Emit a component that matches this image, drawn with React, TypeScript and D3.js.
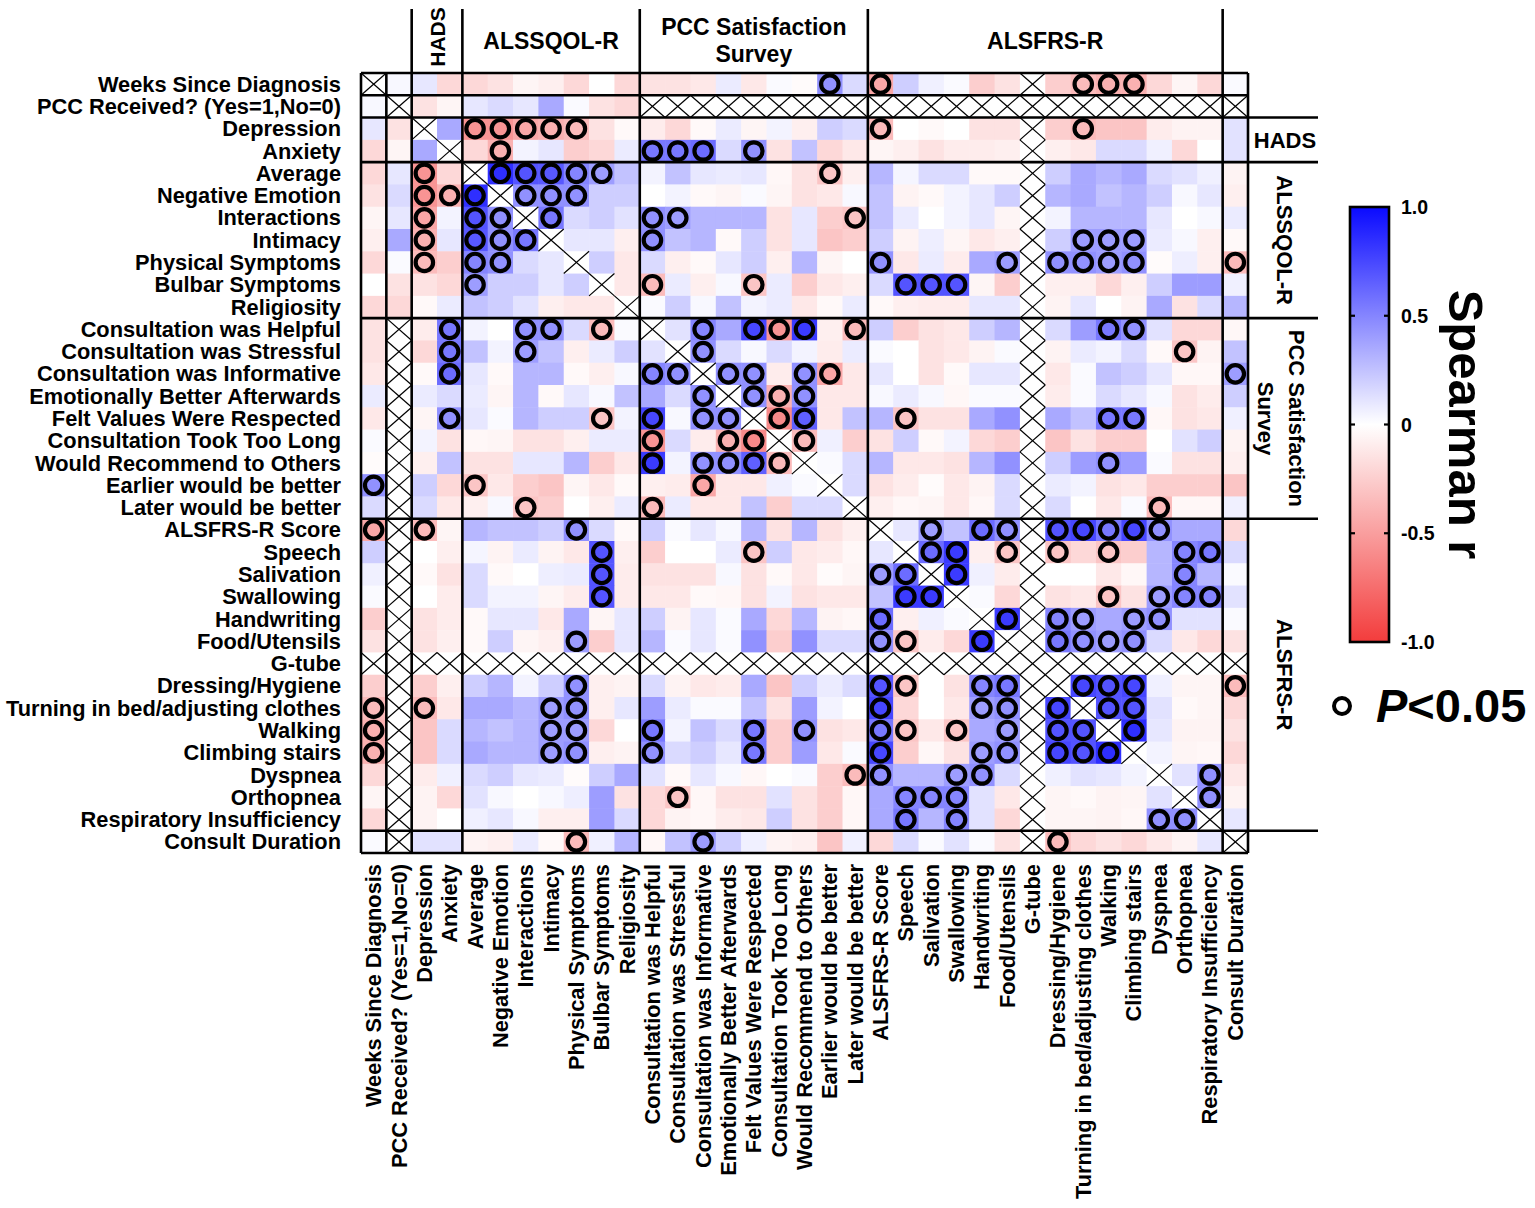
import * as d3 from 'd3'

// Variables, in matrix order (rows top -> bottom, columns left -> right)
const variables = [
  'Weeks Since Diagnosis',
  'PCC Received? (Yes=1,No=0)',
  'Depression',
  'Anxiety',
  'Average',
  'Negative Emotion',
  'Interactions',
  'Intimacy',
  'Physical Symptoms',
  'Bulbar Symptoms',
  'Religiosity',
  'Consultation was Helpful',
  'Consultation was Stressful',
  'Consultation was Informative',
  'Emotionally Better Afterwards',
  'Felt Values Were Respected',
  'Consultation Took Too Long',
  'Would Recommend to Others',
  'Earlier would be better',
  'Later would be better',
  'ALSFRS-R Score',
  'Speech',
  'Salivation',
  'Swallowing',
  'Handwriting',
  'Food/Utensils',
  'G-tube',
  'Dressing/Hygiene',
  'Turning in bed/adjusting clothes',
  'Walking',
  'Climbing stairs',
  'Dyspnea',
  'Orthopnea',
  'Respiratory Insufficiency',
  'Consult Duration',
]

// Instrument blocks: [first index, index after last]
const groups = [
  { name: 'HADS', start: 2, end: 4 },
  { name: 'ALSSQOL-R', start: 4, end: 11 },
  { name: 'PCC Satisfaction Survey', start: 11, end: 20 },
  { name: 'ALSFRS-R', start: 20, end: 34 },
]

// Spearman r, lower triangle (row i holds columns 0..i-1); null = not computed
const lowerR: (number | null)[][] = [
  [],
  [0.03],
  [0.1, -0.15],
  [-0.2, -0.05, 0.35],
  [-0.2, 0.1, -0.55, -0.2],
  [-0.15, 0.15, -0.55, -0.4, 0.85],
  [-0.05, 0.1, -0.45, 0.05, 0.7, 0.45],
  [-0.08, 0.35, -0.4, 0.1, 0.68, 0.45, 0.55],
  [-0.2, 0.02, -0.35, -0.25, 0.5, 0.45, 0.15, 0.1],
  [0, -0.15, -0.15, -0.2, 0.4, 0.2, 0.2, 0.1, 0.2],
  [-0.2, -0.2, -0.03, 0.08, 0.25, 0.2, 0.12, -0.08, -0.12, -0.12],
  [-0.15, null, -0.1, 0.55, 0.05, 0, 0.45, 0.45, 0.15, -0.35, 0.02],
  [-0.15, null, -0.2, 0.55, 0.25, 0.05, 0.4, 0.25, -0.08, 0.08, 0.2, 0.12],
  [-0.12, null, -0.03, 0.6, 0.1, -0.03, 0.3, 0.3, -0.03, -0.08, 0.03, 0.5, 0.45],
  [0.08, null, 0.08, 0.15, 0.08, -0.05, 0.3, -0.03, 0.1, 0.03, 0.25, 0.35, 0.15, 0.45],
  [-0.12, null, -0.05, 0.45, 0.1, 0.02, 0.3, 0.2, 0.2, -0.3, 0.05, 0.75, 0.03, 0.45, 0.45],
  [0.02, null, 0.05, -0.15, -0.04, -0.05, -0.15, -0.15, -0.08, 0.08, 0.08, -0.55, 0.15, -0.1, -0.4, -0.6],
  [-0.02, null, -0.08, 0.25, -0.15, -0.15, 0.1, 0.1, 0.3, -0.25, -0.12, 0.8, 0.05, 0.45, 0.45, 0.65, -0.35],
  [0.45, null, 0.2, -0.2, -0.3, -0.12, -0.25, -0.3, -0.05, -0.12, -0.03, -0.08, -0.1, -0.45, -0.12, -0.12, 0.06, 0.02],
  [0.15, null, 0.15, -0.12, -0.08, 0.03, -0.3, -0.25, 0, -0.08, 0.08, -0.35, 0.08, -0.12, -0.12, 0.25, -0.25, 0.15, 0.15],
  [-0.45, null, -0.35, -0.05, 0.3, 0.25, 0.25, 0.2, 0.45, 0.15, -0.03, 0.2, 0.02, 0.1, 0.03, 0.3, -0.15, 0.3, -0.15, -0.08],
  [0.2, null, 0, -0.08, 0.04, -0.06, 0.08, -0.06, -0.12, 0.7, -0.08, -0.25, 0, 0, 0.08, -0.3, 0.2, -0.12, -0.1, -0.04, 0.1],
  [0.06, null, -0.03, -0.15, 0.15, -0.03, 0, 0.07, 0.08, 0.7, -0.1, -0.15, -0.15, -0.15, 0.03, -0.15, -0.03, -0.12, -0.02, -0.05, 0.4, 0.6],
  [0.02, null, 0, -0.1, 0.15, 0.05, 0.05, -0.05, -0.1, 0.7, -0.1, -0.12, -0.12, -0.03, -0.04, -0.15, 0.05, -0.15, -0.12, -0.12, 0.25, 0.8, 0.8],
  [-0.25, null, -0.15, -0.1, -0.03, 0.1, 0.1, -0.12, 0.35, -0.05, 0.1, 0.2, -0.06, 0.1, 0.02, 0.35, -0.2, 0.3, -0.06, -0.04, 0.6, -0.08, 0.06, 0.02],
  [-0.15, null, -0.15, -0.08, -0.03, 0.2, -0.05, -0.08, 0.4, -0.25, 0.1, 0.3, 0.02, 0.1, 0.02, 0.45, -0.25, 0.45, 0.15, 0.15, 0.45, -0.3, -0.1, -0.2, 0.8],
  [], // G-tube: no variance, nothing computed
  [-0.25, null, -0.25, -0.08, 0.2, 0.3, 0.05, 0.2, 0.45, -0.08, -0.06, 0.15, -0.06, -0.12, -0.1, 0.35, -0.3, 0.2, 0.08, 0.15, 0.7, -0.3, 0, -0.15, 0.5, 0.55, null],
  [-0.35, null, -0.35, -0.12, 0.35, 0.35, 0.3, 0.4, 0.45, -0.08, 0.1, 0.4, 0.08, 0.02, 0.02, 0.25, -0.15, 0.4, 0.05, 0, 0.75, -0.2, 0, -0.12, 0.4, 0.45, null, 0.75],
  [-0.4, null, -0.3, 0.15, 0.3, 0.25, 0.3, 0.4, 0.4, -0.2, 0, 0.55, 0.05, 0.25, 0.15, 0.55, -0.25, 0.45, -0.15, -0.12, 0.55, -0.3, -0.12, -0.3, 0.35, 0.4, null, 0.7, 0.7],
  [-0.4, null, -0.3, 0.15, 0.35, 0.3, 0.3, 0.4, 0.45, -0.08, -0.06, 0.45, 0.15, 0.2, 0.1, 0.55, -0.25, 0.4, -0.12, 0.02, 0.75, -0.25, -0.04, -0.15, 0.4, 0.45, null, 0.75, 0.7, 0.85],
  [-0.2, null, -0.1, 0.06, 0.15, 0.2, 0.1, 0.08, -0.02, 0.2, 0.35, 0.12, -0.03, 0.1, 0.03, -0.04, 0, 0.02, -0.25, -0.35, 0.45, 0.3, 0.3, 0.4, 0.45, 0.15, null, 0.06, 0.12, 0.1, 0.05],
  [-0.05, null, -0.06, -0.2, 0.12, 0.03, 0, 0.03, 0.07, 0.4, -0.15, -0.2, -0.3, -0.04, -0.15, -0.15, 0.12, -0.15, -0.25, -0.04, 0.35, 0.5, 0.5, 0.5, 0.12, -0.12, null, -0.05, -0.03, -0.06, -0.05, 0.12],
  [-0.2, null, -0.06, 0, 0.06, 0.1, 0.03, -0.08, -0.08, 0.4, 0.15, -0.2, -0.06, -0.04, -0.1, -0.12, 0.2, -0.15, -0.25, -0.04, 0.35, 0.55, 0.3, 0.5, 0.12, -0.2, null, -0.05, -0.05, -0.06, -0.04, 0.45, 0.45],
  [0.02, null, 0.12, 0.12, -0.06, -0.08, 0.08, -0.03, -0.35, 0.06, 0.3, -0.04, 0.25, 0.4, 0.2, 0.06, -0.06, -0.08, -0.3, 0.06, -0.2, 0.15, 0.02, 0.12, 0.02, -0.15, null, -0.35, -0.2, -0.15, -0.2, -0.12, -0.06, 0.1],
]

// P<0.05 pairs [row, col], lower triangle
const significant: [number, number][] = [
  [4, 2], [5, 2], [5, 3], [5, 4], [6, 2], [6, 4], [6, 5], [7, 2], [7, 4], [7, 5], [7, 6],
  [8, 2], [8, 4], [8, 5], [9, 4],
  [11, 3], [11, 6], [11, 7], [11, 9], [12, 3], [12, 6], [13, 3], [13, 11], [13, 12], [14, 13],
  [15, 3], [15, 9], [15, 11], [15, 13], [15, 14], [16, 11], [16, 14], [16, 15],
  [17, 11], [17, 13], [17, 14], [17, 15], [17, 16], [18, 0], [18, 4], [18, 13], [19, 6], [19, 11],
  [20, 0], [20, 2], [20, 8], [21, 9], [21, 15], [22, 9], [22, 20], [22, 21], [23, 9], [23, 21], [23, 22],
  [24, 20], [25, 8], [25, 20], [25, 21], [25, 24],
  [27, 8], [27, 20], [27, 21], [27, 24], [27, 25],
  [28, 0], [28, 2], [28, 7], [28, 8], [28, 20], [28, 24], [28, 25], [28, 27],
  [29, 0], [29, 7], [29, 8], [29, 11], [29, 15], [29, 17], [29, 20], [29, 21], [29, 23], [29, 25], [29, 27], [29, 28],
  [30, 0], [30, 7], [30, 8], [30, 11], [30, 15], [30, 20], [30, 24], [30, 25], [30, 27], [30, 28], [30, 29],
  [31, 19], [31, 20], [31, 23], [31, 24],
  [32, 12], [32, 21], [32, 22], [32, 23],
  [33, 21], [33, 23], [33, 31], [33, 32],
  [34, 8], [34, 13], [34, 27],
]

const colorTicks = [1, 0.5, 0, -0.5, -1]
const colorTickLabels = ['1.0', '0.5', '0', '-0.5', '-1.0']

const FONT = '"Liberation Sans", Arial, sans-serif'

function rValue(i: number, j: number): number | null {
  if (i === j) return null
  const [a, b] = i > j ? [i, j] : [j, i]
  const v = lowerR[a][b]
  return v === undefined ? null : v
}

export default function App() {
  const width = 1535
  const height = 1208
  const left = 361
  const right = 1248
  const top = 73
  const bottom = 853
  const idx = variables.map((_, i) => i)

  const x = d3.scaleBand<number>().domain(idx).range([left, right])
  const y = d3.scaleBand<number>().domain(idx).range([top, bottom])
  const cw = x.bandwidth()
  const ch = y.bandwidth()

  const color = d3
    .scaleLinear<string>()
    .domain([-1, 0, 1])
    .range(['#f33c3c', '#ffffff', '#0a0aff'])
    .interpolate(d3.interpolateRgb)

  const sigSet = new Set<string>()
  significant.forEach(([a, b]) => {
    sigSet.add(`${a}-${b}`)
    sigSet.add(`${b}-${a}`)
  })

  const cells = idx.flatMap((i) => idx.map((j) => ({ i, j, v: rValue(i, j) })))

  // block boundaries
  const bounds = [0, 1, 2, 4, 11, 20, 34, 35]
  const groupBounds = [2, 4, 11, 20, 34]
  const edgeX = (b: number) => left + b * cw
  const edgeY = (b: number) => top + b * ch

  // colour bar
  const barX = 1350
  const barW = 39
  const cbar = d3.scaleLinear([-1, 1], [642, 207])

  const lineW = 2.6
  const labelSize = 21.8

  return (
    <svg
      width={width}
      height={height}
      style={{ position: 'absolute', left: 0, top: 0, display: 'block', background: '#fff' }}
      fontFamily={FONT}
      fontWeight="bold"
    >
      <defs>
        <linearGradient id="spearman" x1="0" y1="1" x2="0" y2="0">
          {d3.range(-1, 1.001, 0.25).map((t) => (
            <stop key={t} offset={(t + 1) / 2} stopColor={color(t)} />
          ))}
        </linearGradient>
      </defs>

      {/* cells */}
      <g>
        {cells.map(({ i, j, v }) => (
          <rect
            key={`c${i}-${j}`}
            x={x(j)}
            y={y(i)}
            width={cw + 0.5}
            height={ch + 0.5}
            fill={v === null ? '#fff' : color(v)}
          />
        ))}
      </g>

      {/* crossed (not computed) cells */}
      <g stroke="#000" strokeWidth={1.2}>
        {cells
          .filter((c) => c.v === null)
          .map(({ i, j }) => {
            const x0 = x(j)!
            const y0 = y(i)!
            return (
              <g key={`x${i}-${j}`}>
                <line x1={x0} y1={y0} x2={x0 + cw} y2={y0 + ch} />
                <line x1={x0 + cw} y1={y0} x2={x0} y2={y0 + ch} />
              </g>
            )
          })}
      </g>

      {/* block lines */}
      <g stroke="#000" strokeWidth={lineW}>
        {bounds.map((b) => (
          <line
            key={`v${b}`}
            x1={edgeX(b)}
            x2={edgeX(b)}
            y1={groupBounds.includes(b) ? 9 : top}
            y2={bottom}
          />
        ))}
        {bounds.map((b) => (
          <line
            key={`h${b}`}
            x1={left}
            x2={groupBounds.includes(b) ? 1318 : right}
            y1={edgeY(b)}
            y2={edgeY(b)}
          />
        ))}
      </g>

      {/* significance rings */}
      <g fill="none" stroke="#000" strokeWidth={4.2}>
        {cells
          .filter((c) => c.v !== null && sigSet.has(`${c.i}-${c.j}`))
          .map(({ i, j }) => (
            <circle key={`s${i}-${j}`} cx={x(j)! + cw / 2} cy={y(i)! + ch / 2} r={8.7} />
          ))}
      </g>

      {/* row labels */}
      <g fontSize={labelSize} textAnchor="end">
        {variables.map((name, i) => (
          <text key={`r${i}`} x={left - 20} y={y(i)! + ch / 2 + 7.5}>
            {name}
          </text>
        ))}
      </g>

      {/* column labels */}
      <g fontSize={labelSize} textAnchor="end">
        {variables.map((name, j) => {
          const cx = x(j)! + cw / 2 + 7.5
          return (
            <text key={`cl${j}`} transform={`translate(${cx},${bottom + 11}) rotate(-90)`}>
              {name}
            </text>
          )
        })}
      </g>

      {/* group headers on top */}
      <g fontSize={23} textAnchor="middle">
        {groups.map((g) => {
          const cx = (edgeX(g.start) + edgeX(g.end)) / 2
          if (g.name === 'HADS') {
            return (
              <text key={g.name} fontSize={21} transform={`translate(${cx + 8},37) rotate(-90)`}>
                {g.name}
              </text>
            )
          }
          if (g.name === 'PCC Satisfaction Survey') {
            return (
              <text key={g.name} x={cx} y={35}>
                <tspan x={cx}>PCC Satisfaction</tspan>
                <tspan x={cx} dy={27}>
                  Survey
                </tspan>
              </text>
            )
          }
          return (
            <text key={g.name} x={cx} y={49}>
              {g.name}
            </text>
          )
        })}
      </g>

      {/* group labels on the right */}
      <g fontSize={22} textAnchor="middle">
        {groups.map((g) => {
          const cy = (edgeY(g.start) + edgeY(g.end)) / 2
          if (g.name === 'HADS') {
            return (
              <text key={`R${g.name}`} x={1285} y={cy + 8}>
                {g.name}
              </text>
            )
          }
          if (g.name === 'PCC Satisfaction Survey') {
            return (
              <g key={`R${g.name}`}>
                <text transform={`translate(1289,${cy}) rotate(90)`}>PCC Satisfaction</text>
                <text transform={`translate(1258,${cy}) rotate(90)`}>Survey</text>
              </g>
            )
          }
          return (
            <text key={`R${g.name}`} transform={`translate(1277,${cy}) rotate(90)`}>
              {g.name}
            </text>
          )
        })}
      </g>

      {/* colour bar */}
      <rect x={barX} y={cbar(1)} width={barW} height={cbar(-1) - cbar(1)} fill="url(#spearman)" />
      <g stroke="#000" strokeWidth={2.2}>
        {colorTicks
          .filter((t) => Math.abs(t) < 1)
          .map((t) => (
            <g key={`t${t}`}>
              <line x1={barX} x2={barX + 5} y1={cbar(t)} y2={cbar(t)} />
              <line x1={barX + barW - 5} x2={barX + barW} y1={cbar(t)} y2={cbar(t)} />
            </g>
          ))}
      </g>
      <rect
        x={barX}
        y={cbar(1)}
        width={barW}
        height={cbar(-1) - cbar(1)}
        fill="none"
        stroke="#000"
        strokeWidth={2.6}
      />
      <g fontSize={19.5}>
        {colorTicks.map((t, k) => (
          <text key={`l${t}`} x={1401} y={cbar(t) + 7}>
            {colorTickLabels[k]}
          </text>
        ))}
      </g>
      <text fontSize={49} textAnchor="middle" transform={`translate(1449,${cbar(0)}) rotate(90)`}>
        Spearman r
      </text>

      {/* legend */}
      <circle cx={1342} cy={706} r={8} fill="none" stroke="#000" strokeWidth={4} />
      <text x={1376} y={722} fontSize={47}>
        <tspan fontStyle="italic">P</tspan>
        {'<0.05'}
      </text>
    </svg>
  )
}
